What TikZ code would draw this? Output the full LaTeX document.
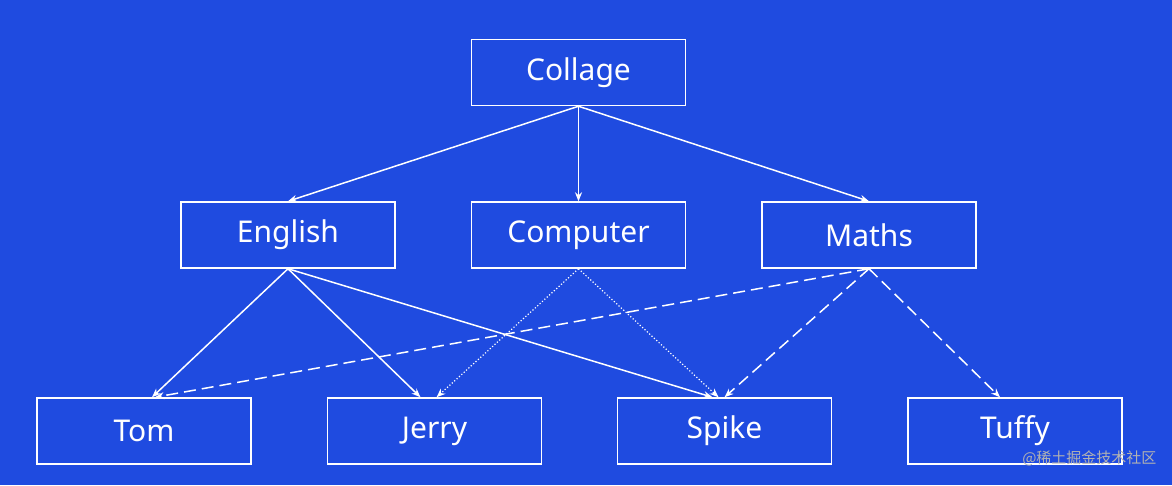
\documentclass[tikz,border=0pt]{standalone}
\usepackage{fontspec}
\setmainfont{Noto Sans}
\newfontfamily\cjk{Noto Sans CJK SC}
\usetikzlibrary{arrows.meta}
\definecolor{bg}{HTML}{1F4BE0}
\begin{document}
\begin{tikzpicture}[x=1pt,y=-1pt,
  box/.style={draw=white,line width=1.5pt,minimum width=214pt,minimum height=66pt,text=white,font=\fontsize{30}{36}\selectfont},
  edge/.style={white,line width=1.5pt,-{Stealth[length=9pt,width=7pt]}},
  dottedge/.style={edge,line width=1.2pt,dotted},
  dashedge/.style={edge,dash pattern=on 12pt off 6pt}]
\fill[bg] (0,0) rectangle (1172,485);
\node[box] (c) at (578.5,72.5) {Collage};
\node[box] (e) at (288,235) {English};
\node[box] (p) at (578.5,235) {Computer};
\node[box] (m) at (869,235) {Maths};
\node[box] (t) at (144,431) {Tom};
\node[box] (j) at (434.5,431) {Jerry};
\node[box] (s) at (724.5,431) {Spike};
\node[box] (u) at (1015,431) {Tuffy};
\draw[edge] (c.south) -- (e.north);
\draw[edge] (c.south) -- (p.north);
\draw[edge] (c.south) -- (m.north);
\draw[edge] (e.south) -- ([xshift=8pt]t.north);
\draw[edge] (e.south) -- ([xshift=-14pt]j.north);
\draw[edge] (e.south) -- ([xshift=-12pt]s.north);
\draw[dottedge] (p.south) -- ([xshift=2pt]j.north);
\draw[dottedge] (p.south) -- ([xshift=-6pt]s.north);
\draw[dashedge] (m.south) -- ([xshift=11pt]t.north);
\draw[dashedge] (m.south) -- (s.north);
\draw[dashedge] (m.south) -- ([xshift=-15pt]u.north);
\node[text=gray!60,font=\cjk\fontsize{15}{18}\selectfont,anchor=east] (w) at (1160,458) {@稀土掘金技术社区};
\end{tikzpicture}
\end{document}
